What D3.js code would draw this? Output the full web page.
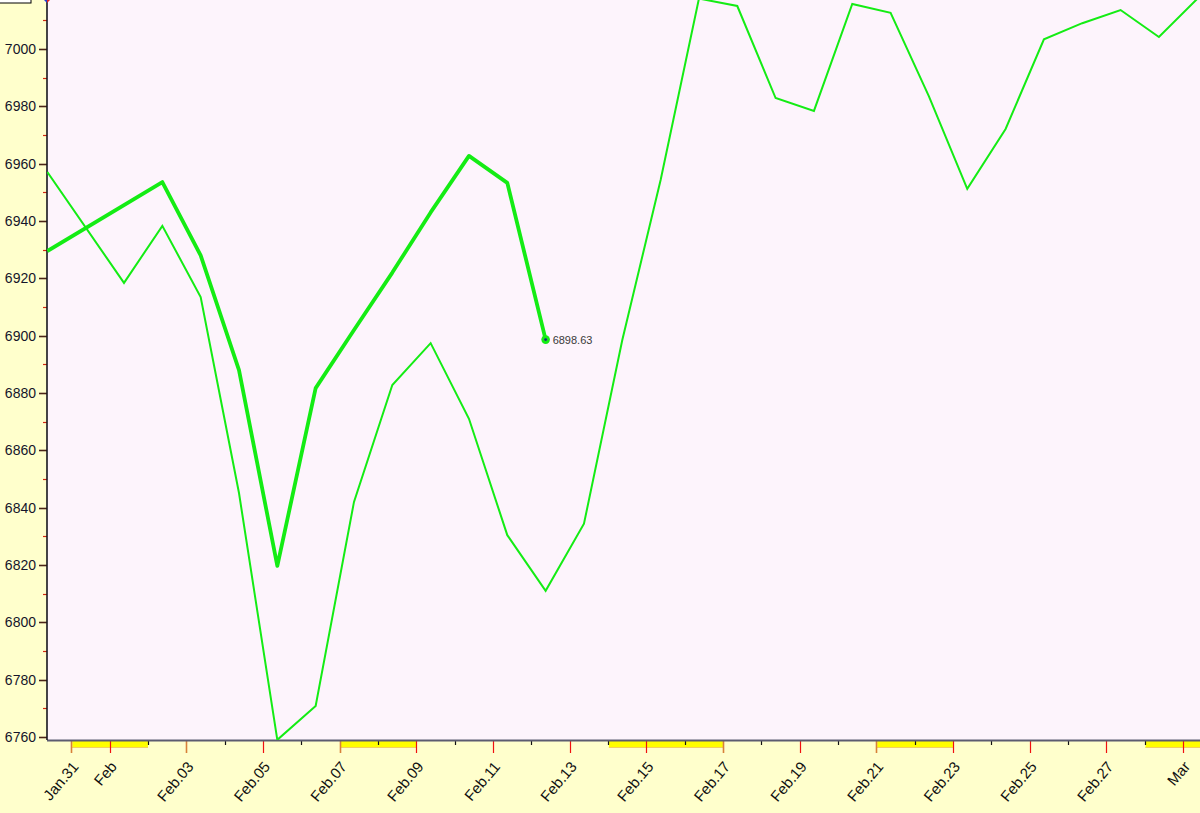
<!DOCTYPE html>
<html>
<head>
<meta charset="utf-8">
<script src="https://cdn.jsdelivr.net/npm/d3@7"></script>
<style>
  html, body { margin: 0; padding: 0; overflow: hidden; background: #ffffcc; }
  svg { display: block; font-family: "Liberation Sans", Arial, sans-serif; }
</style>
</head>
<body>
<div id="container"></div>
<script>
"use strict";

const parse = d3.timeParse("%Y-%m-%d %H:%M");

// Thin series, one reading a day (09:00).
const thinDates = [
  "2015-01-30", "2015-02-01", "2015-02-02", "2015-02-03", "2015-02-04", "2015-02-05",
  "2015-02-06", "2015-02-07", "2015-02-08", "2015-02-09", "2015-02-10", "2015-02-11",
  "2015-02-12", "2015-02-13", "2015-02-14", "2015-02-15", "2015-02-16", "2015-02-17",
  "2015-02-18", "2015-02-19", "2015-02-20", "2015-02-21", "2015-02-22", "2015-02-23",
  "2015-02-24", "2015-02-25", "2015-02-26", "2015-02-27", "2015-02-28", "2015-03-01"
];
const thinValues = [
  6957.1, 6918.4, 6938.3, 6913.5, 6845.1, 6759.0,
  6770.8, 6842.0, 6882.8, 6897.4, 6871.0, 6830.4,
  6811.0, 6834.4, 6898.5, 6954.3, 7017.6, 7015.0,
  6982.9, 6978.4, 7015.7, 7012.6, 6983.5, 6951.2,
  6972.1, 7003.4, 7009.0, 7013.6, 7004.2, 7017.5
];

// Thick series, ends with the labelled point.
const thickDates = [
  "2015-01-30", "2015-02-02", "2015-02-03", "2015-02-04", "2015-02-05", "2015-02-06",
  "2015-02-07", "2015-02-08", "2015-02-09", "2015-02-10", "2015-02-11", "2015-02-12"
];
const thickValues = [
  6929.5, 6953.6, 6928.0, 6888.0, 6819.7, 6881.7,
  6902.0, 6922.0, 6943.0, 6962.7, 6953.3, 6898.63
];

// Day ticks and their labels (empty = minor tick).
const tickDays = [
  "2015-01-31", "2015-02-01", "2015-02-02", "2015-02-03", "2015-02-04", "2015-02-05",
  "2015-02-06", "2015-02-07", "2015-02-08", "2015-02-09", "2015-02-10", "2015-02-11",
  "2015-02-12", "2015-02-13", "2015-02-14", "2015-02-15", "2015-02-16", "2015-02-17",
  "2015-02-18", "2015-02-19", "2015-02-20", "2015-02-21", "2015-02-22", "2015-02-23",
  "2015-02-24", "2015-02-25", "2015-02-26", "2015-02-27", "2015-02-28", "2015-03-01"
];
const tickLabels = [
  "Jan.31", "Feb", "", "Feb.03", "", "Feb.05",
  "", "Feb.07", "", "Feb.09", "", "Feb.11",
  "", "Feb.13", "", "Feb.15", "", "Feb.17",
  "", "Feb.19", "", "Feb.21", "", "Feb.23",
  "", "Feb.25", "", "Feb.27", "", "Mar"
];
const orangeTickDays = ["2015-01-31", "2015-02-03", "2015-02-07", "2015-02-17", "2015-02-21"];

// Non-trading stretches shown as yellow bands under the axis.
const bandStarts = ["2015-01-31", "2015-02-07", "2015-02-14", "2015-02-21", "2015-02-28"];
const bandEnds = ["2015-02-02", "2015-02-09", "2015-02-17", "2015-02-23", "2015-03-02"];

const yTicks = [6760, 6780, 6800, 6820, 6840, 6860, 6880, 6900, 6920, 6940, 6960, 6980, 7000];
const yMinorTicks = [6770, 6790, 6810, 6830, 6850, 6870, 6890, 6910, 6930, 6950, 6970, 6990, 7010];

const width = 1200;
const height = 813;
const plotLeft = 47;
const plotBottom = 740;
const green = "#14ec14";

const day = (s) => parse(s + " 00:00");
const at9 = (s) => parse(s + " 09:00");

const x = d3.scaleTime()
  .domain([day("2015-01-31"), day("2015-03-01")])
  .range([71.3, 71.3 + 29 * 38.33]);
const y = d3.scaleLinear()
  .domain([6760, 7000])
  .range([737, 49]);

const svg = d3.create("svg").attr("width", width).attr("height", height);

svg.append("rect")
  .attr("width", width).attr("height", height)
  .attr("fill", "#ffffcc");

svg.append("defs").append("clipPath").attr("id", "plot-clip")
  .append("rect")
  .attr("x", plotLeft).attr("y", 0)
  .attr("width", width - plotLeft).attr("height", plotBottom);

// Plot background.
svg.append("rect")
  .attr("x", plotLeft).attr("y", 0)
  .attr("width", width - plotLeft).attr("height", plotBottom)
  .attr("fill", "#fdf4fc");

// Yellow bands.
const bands = bandStarts.map((s, i) => ({ start: day(s), end: day(bandEnds[i]) }));
svg.append("g").selectAll("rect")
  .data(bands)
  .join("rect")
  .attr("x", (d) => x(d.start) + 1)
  .attr("y", plotBottom + 1)
  .attr("width", (d) => Math.min(x(d.end), width) - x(d.start) - 1)
  .attr("height", 7)
  .attr("fill", "#ffff00");
svg.append("g").selectAll("rect")
  .data(bands)
  .join("rect")
  .attr("x", (d) => x(d.start) + 1)
  .attr("y", plotBottom + 7)
  .attr("width", (d) => Math.min(x(d.end), width) - x(d.start) - 1)
  .attr("height", 1)
  .attr("fill", "#f2d060");

// X-axis ticks and labels.
const ticks = tickDays.map((s, i) => ({
  date: day(s),
  label: tickLabels[i],
  orange: orangeTickDays.includes(s)
}));
const xAxisG = svg.append("g");
xAxisG.selectAll("line")
  .data(ticks)
  .join("line")
  .attr("x1", (d) => Math.round(x(d.date)) + 0.5)
  .attr("x2", (d) => Math.round(x(d.date)) + 0.5)
  .attr("y1", plotBottom)
  .attr("y2", (d) => (d.label ? plotBottom + 13 : plotBottom + 5))
  .attr("stroke", (d) => (!d.label ? "#111" : d.orange ? "#d8803a" : "#f01010"))
  .attr("stroke-width", (d) => (d.orange ? 1.6 : 1.2));
xAxisG.selectAll("text")
  .data(ticks.filter((d) => d.label))
  .join("text")
  .attr("transform", (d) => `translate(${x(d.date) + 8}, ${plotBottom + 27}) rotate(-50)`)
  .attr("text-anchor", "end")
  .attr("font-size", 15)
  .attr("fill", "#111")
  .text((d) => d.label);

// X-axis line.
svg.append("line")
  .attr("x1", plotLeft).attr("x2", width)
  .attr("y1", plotBottom + 0.5).attr("y2", plotBottom + 0.5)
  .attr("stroke", "#5c5c70").attr("stroke-width", 2);

// Y-axis: minor ticks every 10, labelled ticks every 20.
const yAxisG = svg.append("g");
yAxisG.selectAll("line.minor")
  .data(yMinorTicks)
  .join("line")
  .attr("class", "minor")
  .attr("x1", plotLeft - 4).attr("x2", plotLeft)
  .attr("y1", (d) => Math.round(y(d)) + 0.5)
  .attr("y2", (d) => Math.round(y(d)) + 0.5)
  .attr("stroke", "#d02810").attr("stroke-width", 1.2);
yAxisG.selectAll("line.major")
  .data(yTicks)
  .join("line")
  .attr("class", "major")
  .attr("x1", plotLeft - 8).attr("x2", plotLeft)
  .attr("y1", (d) => Math.round(y(d)) + 0.5)
  .attr("y2", (d) => Math.round(y(d)) + 0.5)
  .attr("stroke", "#4a2418").attr("stroke-width", 1.6);
yAxisG.selectAll("text")
  .data(yTicks)
  .join("text")
  .attr("x", plotLeft - 11)
  .attr("y", (d) => y(d))
  .attr("dy", "0.36em")
  .attr("text-anchor", "end")
  .attr("font-size", 14)
  .attr("fill", "#15152a")
  .text((d) => d);

svg.append("line")
  .attr("x1", plotLeft).attr("x2", plotLeft)
  .attr("y1", 0).attr("y2", plotBottom)
  .attr("stroke", "#16161e").attr("stroke-width", 1.6);

// Series lines.
const line = d3.line().x((d) => x(d.date)).y((d) => y(d.value));
const thin = thinDates.map((s, i) => ({ date: at9(s), value: thinValues[i] }));
const thick = thickDates.map((s, i) => ({ date: at9(s), value: thickValues[i] }));

const lines = svg.append("g").attr("clip-path", "url(#plot-clip)");
lines.append("path")
  .datum(thin)
  .attr("d", line)
  .attr("fill", "none")
  .attr("stroke", green)
  .attr("stroke-width", 2)
  .attr("stroke-linejoin", "miter");
lines.append("path")
  .datum(thick)
  .attr("d", line)
  .attr("fill", "none")
  .attr("stroke", green)
  .attr("stroke-width", 3.8)
  .attr("stroke-linejoin", "round");

// Last point marker and value label.
const last = thick[thick.length - 1];
svg.append("circle")
  .attr("cx", x(last.date)).attr("cy", y(last.value))
  .attr("r", 4.3).attr("fill", green);
svg.append("circle")
  .attr("cx", x(last.date)).attr("cy", y(last.value))
  .attr("r", 1.4).attr("fill", "#1a2a7a");
svg.append("text")
  .attr("x", x(last.date) + 7)
  .attr("y", y(last.value))
  .attr("dy", "0.36em")
  .attr("font-size", 11)
  .attr("fill", "#3a3a3a")
  .text(d3.format(".2f")(last.value));

// Bits of the legend box and cursor marker cut off at the top edge.
svg.append("rect")
  .attr("x", -1).attr("y", -2)
  .attr("width", 32).attr("height", 5)
  .attr("fill", "#fff").attr("stroke", "#000").attr("stroke-width", 1);
svg.append("path")
  .attr("d", `M${plotLeft - 4},-1 L${plotLeft},3 L${plotLeft},-5 Z`)
  .attr("fill", "#2040d0");
svg.append("path")
  .attr("d", `M${plotLeft + 4},-1 L${plotLeft},3 L${plotLeft},-5 Z`)
  .attr("fill", "#e02020");

document.getElementById("container").append(svg.node());
</script>
</body>
</html>
